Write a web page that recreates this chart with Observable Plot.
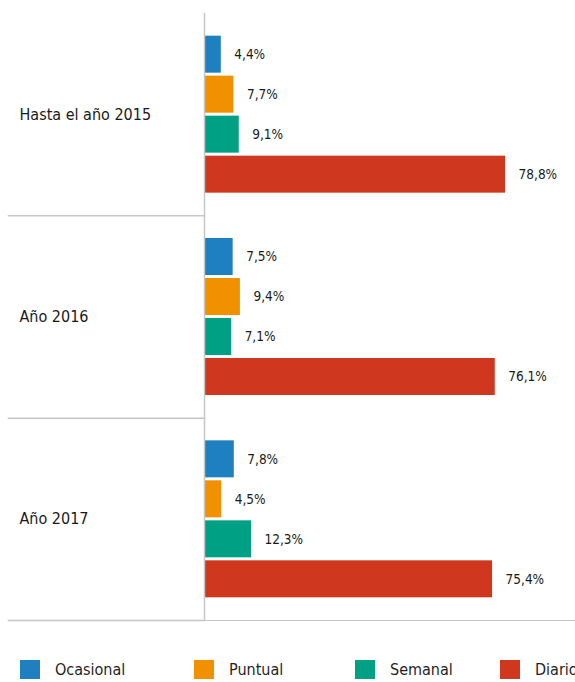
<!DOCTYPE html>
<html>
<head>
<meta charset="utf-8">
<script src="https://cdn.jsdelivr.net/npm/d3@7"></script>
<script src="https://cdn.jsdelivr.net/npm/@observablehq/plot@0.6"></script>
<style>
  html, body { margin: 0; padding: 0; background: #fff; width: 575px; height: 682px; overflow: hidden; }
  body { font-family: "DejaVu Sans Condensed", "DejaVu Sans", sans-serif; color: #1f1f1f; }
  #chart svg { display: block; }
  #legend { position: relative; margin-left: 8px; width: 567px; height: 60px; border-top: 1.5px solid #c6c6c6; }
  .item { position: absolute; top: 38.5px; display: flex; align-items: center; font-size: 16px; white-space: nowrap; }
  .sw { width: 20px; height: 19px; margin-right: 15px; }
  .item:nth-child(1) { left: 12px; }
  .item:nth-child(2) { left: 186px; }
  .item:nth-child(3) { left: 347px; }
  .item:nth-child(4) { left: 492px; }
</style>
</head>
<body>
<div id="chart"></div>
<div id="legend"></div>
<script>
const years = ["Hasta el año 2015", "Año 2016", "Año 2017"];
const types = ["Ocasional", "Puntual", "Semanal", "Diario"];
const colors = ["#1f80c1", "#f29100", "#00a085", "#cf381f"];
const values2015 = [4.4, 7.7, 9.1, 78.8];
const values2016 = [7.5, 9.4, 7.1, 76.1];
const values2017 = [7.8, 4.5, 12.3, 75.4];

const series = [values2015, values2016, values2017];
const data = years.flatMap((year, i) => types.map((type, j) => ({year, type, value: series[i][j]})));
const fmt = v => v.toFixed(1).replace(".", ",") + "%";

const chart = Plot.plot({
  width: 575,
  height: 620,
  marginTop: 13,
  marginBottom: 0,
  marginLeft: 204,
  marginRight: 0,
  style: {fontFamily: "'DejaVu Sans Condensed', 'DejaVu Sans', sans-serif", color: "#1f1f1f", background: "#fff", overflow: "visible"},
  x: {domain: [0, 97.1], axis: null},
  y: {domain: types, axis: null, paddingInner: 0.075, paddingOuter: 0.567, round: false},
  fy: {domain: years, axis: null, padding: 0, round: false},
  color: {domain: types, range: colors},
  marks: [
    Plot.frame({anchor: "bottom", stroke: "#c6c6c6", strokeWidth: 1.5, insetLeft: -196, insetRight: 371}),
    Plot.barX(data, {x: "value", y: "type", fy: "year", fill: "type"}),
    Plot.ruleX([0], {stroke: "#c6c6c6", strokeWidth: 1.5}),
    Plot.text(data, {x: "value", y: "type", fy: "year", text: d => fmt(d.value), textAnchor: "start", dx: 13, fontSize: 13.5, fill: "#1a1a1a"}),
    Plot.text(years, {fy: d => d, text: d => d, frameAnchor: "left", textAnchor: "start", dx: -185, fontSize: 16, fill: "#1a1a1a"})
  ]
});
document.getElementById("chart").appendChild(chart);

const legend = document.getElementById("legend");
types.forEach((t, i) => {
  const item = document.createElement("div");
  item.className = "item";
  const sw = document.createElement("span");
  sw.className = "sw";
  sw.style.background = colors[i];
  const label = document.createElement("span");
  label.textContent = t;
  item.appendChild(sw);
  item.appendChild(label);
  legend.appendChild(item);
});
</script>
</body>
</html>
